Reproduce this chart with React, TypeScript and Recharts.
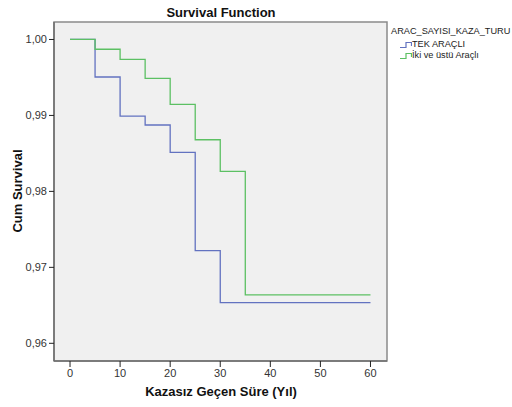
import { LineChart, Line, XAxis, YAxis, ReferenceArea } from 'recharts'

const years = [0, 5, 10, 15, 20, 25, 30, 35, 40, 45, 50, 55, 60]
const tekAracli = [1.0, 0.99506, 0.9899, 0.98874, 0.98513, 0.9722, 0.96535, 0.96535, 0.96535, 0.96535, 0.96535, 0.96535, 0.96535]
const ikiVeUstu = [1.0, 0.99871, 0.99739, 0.99489, 0.99145, 0.9868, 0.98263, 0.96637, 0.96637, 0.96637, 0.96637, 0.96637, 0.96637]
const xTicks = [0, 10, 20, 30, 40, 50, 60]
const yTicks = [0.96, 0.97, 0.98, 0.99, 1.0]

const data = years.map((t, i) => ({ t, tek: tekAracli[i], iki: ikiVeUstu[i] }))

const font = '"Liberation Sans", Arial, sans-serif'

const legendItems = [
  { label: 'TEK ARAÇLI', color: '#6272c0' },
  { label: 'İki ve üstü Araçlı', color: '#5cc063' },
]

function StepIcon({ color }: { color: string }) {
  return (
    <svg width={12} height={8} style={{ display: 'block' }}>
      <path d="M0,6.5 H6 V1.5 H11.5 V5" fill="none" stroke={color} strokeWidth={1.2} />
    </svg>
  )
}

export default function App() {
  return (
    <div style={{ position: 'absolute', left: 0, top: 0, width: 512, height: 407, background: '#fff' }}>
      <LineChart width={512} height={407} data={data} margin={{ top: 22, right: 125, bottom: 0, left: 0 }}>
        <ReferenceArea x1={-3.2} x2={63.3} y1={0.95767} y2={1.0023} fill="#f0f0f0" fillOpacity={1} stroke="#8a8a8a" strokeWidth={1.5} />
        <XAxis
          dataKey="t"
          type="number"
          domain={[-3.2, 63.3]}
          ticks={xTicks}
          allowDataOverflow
          height={46}
          tick={{ fontSize: 11, fill: '#333', fontFamily: font }}
          tickLine={{ stroke: '#222' }}
          tickSize={6}
          axisLine={{ stroke: '#6e6e6e', strokeWidth: 1.5 }}
        />
        <YAxis
          type="number"
          domain={[0.95767, 1.0023]}
          ticks={yTicks}
          allowDataOverflow
          width={54}
          tickFormatter={(v: number) => v.toFixed(2).replace('.', ',')}
          tick={{ fontSize: 11, fill: '#333', fontFamily: font }}
          tickLine={{ stroke: '#222' }}
          tickSize={5}
          axisLine={{ stroke: '#6e6e6e', strokeWidth: 1.5 }}
        />
        <Line type="stepAfter" dataKey="tek" stroke="#6272c0" strokeWidth={1.3} dot={false} isAnimationActive={false} />
        <Line type="stepAfter" dataKey="iki" stroke="#5cc063" strokeWidth={1.3} dot={false} isAnimationActive={false} />
        <text x={221} y={17} textAnchor="middle" fontFamily={font} fontSize={13} fontWeight="bold" fill="#111">
          Survival Function
        </text>
        <text x={221} y={396} textAnchor="middle" fontFamily={font} fontSize={13} fontWeight="bold" fill="#111">
          Kazasız Geçen Süre (Yıl)
        </text>
        <text
          x={22}
          y={191}
          textAnchor="middle"
          fontFamily={font}
          fontSize={13}
          fontWeight="bold"
          fill="#111"
          transform="rotate(-90 22 191)"
        >
          Cum Survival
        </text>
      </LineChart>
      <div style={{ position: 'absolute', left: 391, top: 26, width: 121, whiteSpace: 'nowrap', fontFamily: font, fontSize: 9.2, color: '#222', lineHeight: '11px' }}>
        <div style={{ marginBottom: 2 }}>ARAC_SAYISI_KAZA_TURU</div>
        {legendItems.map((it) => (
          <div key={it.label} style={{ display: 'flex', alignItems: 'center', marginLeft: 9 }}>
            <StepIcon color={it.color} />
            <span>{it.label}</span>
          </div>
        ))}
      </div>
    </div>
  )
}
